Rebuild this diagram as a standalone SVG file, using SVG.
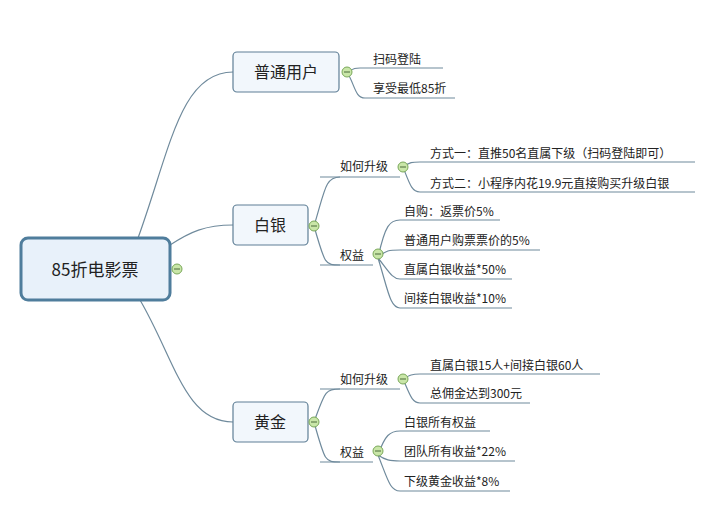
<svg xmlns="http://www.w3.org/2000/svg" width="708" height="508" viewBox="0 0 708 508">
<defs>
<style>
.c{fill:none;stroke:#6f8a9c;stroke-width:1.2}
.u{fill:none;stroke:#6f8a9c;stroke-width:1.2}
.b{fill:#f2f7fc;stroke:#5f7f96;stroke-width:1.2}
.t{font-family:"Noto Sans CJK SC","Liberation Sans",sans-serif;fill:#222}
.s{font-size:12px}
.m{font-size:16px;text-anchor:middle}
.i{fill:#c9e6a8;stroke:#7aa85a;stroke-width:1}
.ih{stroke:#4b6b3a;stroke-width:1}
</style>
<g id="icon"><circle cx="0" cy="0" r="5" class="i"/><line x1="-3" y1="0" x2="3" y2="0" class="ih"/></g>
</defs>
<rect width="708" height="508" fill="#fff"/>
<g id="connectors">
<path class="c" d="M138,238 C170,150 180,72 233,72"/>
<path class="c" d="M170,245 C190,232 205,225 233,225"/>
<path class="c" d="M140,300 C175,360 185,422 233,422"/>
<path class="c" d="M347,72 C355,68 355,68 360,68 M347,72 C355,85 355,98 365,98"/>
<path class="u" d="M360,68 H443 M365,98 H455"/>
<path class="c" d="M314,226 C325,190 325,177 340,177 M314,226 C325,265 325,265 340,265"/>
<path class="u" d="M320,177 H400 M320,265 H373"/>
<path class="c" d="M403,167 C410,162 412,162 420,162 M403,167 C410,185 412,192 420,192"/>
<path class="u" d="M420,162 H695 M420,192 H695"/>
<path class="c" d="M378,258 C385,225 390,220 400,220 M378,258 C385,250 390,250 400,250 M378,258 C388,270 392,279 400,279 M378,258 C388,290 390,308 400,308"/>
<path class="u" d="M400,220 H500 M400,250 H540 M400,279 H512 M400,308 H512"/>
<path class="c" d="M314,422 C325,392 325,389 340,389 M314,422 C325,462 325,462 340,462"/>
<path class="u" d="M320,389 H400 M320,462 H373"/>
<path class="c" d="M403,379 C410,375 412,374 420,374 M403,379 C410,395 412,403 420,403"/>
<path class="u" d="M420,374 H600 M420,403 H530"/>
<path class="c" d="M378,455 C385,435 390,431 400,431 M378,455 C385,460 390,461 400,461 M378,455 C388,480 390,491 400,491"/>
<path class="u" d="M400,431 H490 M400,461 H515 M400,491 H510"/>
</g>
<g id="root">
<rect x="21" y="238" width="149" height="62" rx="7" fill="#e8f1fa" stroke="#4f7d9c" stroke-width="3"/>
<text x="95" y="276" class="t" font-size="17" text-anchor="middle">85折电影票</text>
<use href="#icon" x="177" y="269"/>
</g>
<g id="n-user">
<rect x="233" y="52" width="106" height="40" rx="4" class="b"/>
<text x="286" y="78" class="t m">普通用户</text>
<use href="#icon" x="347" y="72"/>
<text x="373" y="64" class="t s">扫码登陆</text>
<text x="373" y="93" class="t s">享受最低85折</text>
</g>
<g id="n-silver">
<rect x="233" y="205" width="75" height="40" rx="4" class="b"/>
<text x="270" y="231" class="t m">白银</text>
<use href="#icon" x="314" y="226"/>
<text x="340" y="171" class="t s">如何升级</text>
<use href="#icon" x="403" y="167"/>
<text x="430" y="158" class="t s">方式一：直推50名直属下级（扫码登陆即可）</text>
<text x="430" y="188" class="t s">方式二：小程序内花19.9元直接购买升级白银</text>
<text x="340" y="260" class="t s">权益</text>
<use href="#icon" x="378" y="254"/>
<text x="404" y="216" class="t s">自购：返票价5%</text>
<text x="404" y="245" class="t s">普通用户购票票价的5%</text>
<text x="404" y="274" class="t s">直属白银收益*50%</text>
<text x="404" y="303" class="t s">间接白银收益*10%</text>
</g>
<g id="n-gold">
<rect x="233" y="402" width="75" height="40" rx="4" class="b"/>
<text x="270" y="428" class="t m">黄金</text>
<use href="#icon" x="314" y="422"/>
<text x="340" y="384" class="t s">如何升级</text>
<use href="#icon" x="403" y="379"/>
<text x="430" y="370" class="t s">直属白银15人+间接白银60人</text>
<text x="430" y="398" class="t s">总佣金达到300元</text>
<text x="340" y="457" class="t s">权益</text>
<use href="#icon" x="378" y="451"/>
<text x="404" y="427" class="t s">白银所有权益</text>
<text x="404" y="456" class="t s">团队所有收益*22%</text>
<text x="404" y="486" class="t s">下级黄金收益*8%</text>
</g>
</svg>
